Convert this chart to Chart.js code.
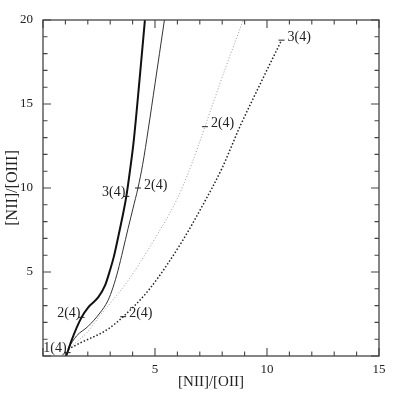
<!DOCTYPE html>
<html><head><meta charset="utf-8">
<script src="https://cdn.jsdelivr.net/npm/chart.js@4/dist/chart.umd.min.js"></script>
<style>html,body{margin:0;padding:0;background:#fff}</style>
</head><body>
<canvas id="c" width="399" height="399"></canvas>
<script>
// Series: thick solid
const thickX = [1.04, 1.28, 1.72, 2.02, 2.47, 2.77, 2.99, 3.16, 3.36, 3.55, 3.72, 3.88, 4.05, 4.30, 4.55];
const thickY = [0.00, 0.95, 2.30, 2.90, 3.50, 4.20, 5.10, 5.90, 7.10, 8.30, 9.50, 11.0, 12.8, 16.3, 20.0];
// Series: thin solid
const thinX = [1.12, 1.50, 2.00, 2.54, 2.90, 3.13, 3.35, 3.57, 3.80, 4.02, 4.24, 4.45, 4.70, 5.00, 5.20, 5.42];
const thinY = [0.46, 1.20, 1.75, 2.56, 3.30, 4.10, 5.10, 6.30, 7.60, 8.80, 10.0, 11.4, 13.5, 16.2, 18.0, 20.0];
// Series: light dotted
const lightX = [1.12, 1.60, 2.00, 2.54, 3.10, 3.70, 4.30, 5.00, 5.97, 6.60, 7.23, 8.00, 8.94];
const lightY = [0.46, 0.95, 1.45, 2.40, 3.30, 4.30, 5.50, 7.00, 9.30, 11.3, 13.65, 16.6, 20.0];
// Series: dark dotted
const darkX = [1.12, 1.65, 2.84, 3.58, 4.78, 6.20, 7.10, 8.00, 8.79, 9.70, 10.65];
const darkY = [0.40, 0.77, 1.55, 2.34, 4.03, 6.80, 8.90, 11.2, 13.65, 16.2, 18.8];
// Point labels
const labelText = ['1(4)', '2(4)', '3(4)', '2(4)', '2(4)', '2(4)', '3(4)'];
const labelX = [1.10, 1.72, 3.72, 4.24, 7.23, 3.58, 10.65];
const labelY = [0.20, 2.30, 9.50, 10.0, 13.65, 2.34, 18.8];
const labelSide = ['left', 'left', 'left', 'right', 'right', 'right', 'right'];
// Axes
const xTickLabels = [5, 10, 15];
const yTickLabels = [5, 10, 15, 20];

function pts(xs, ys) { return xs.map((v, i) => ({x: v, y: ys[i]})); }

const FONT = "'Liberation Serif', 'DejaVu Serif', serif";

const framePlugin = {
  id: 'frame',
  afterDatasetsDraw(chart) {
    const {ctx, chartArea: a, scales: {x, y}} = chart;
    ctx.save();
    ctx.strokeStyle = '#444';
    ctx.lineWidth = 1.3;
    ctx.strokeRect(a.left, a.top, a.right - a.left, a.bottom - a.top);
    ctx.lineWidth = 1.1;
    ctx.beginPath();
    for (let v = Math.ceil(x.min); v <= x.max; v++) {
      const p = x.getPixelForValue(v);
      const len = v % 5 === 0 ? 8 : 4.5;
      ctx.moveTo(p, a.bottom); ctx.lineTo(p, a.bottom - len);
      ctx.moveTo(p, a.top); ctx.lineTo(p, a.top + len);
    }
    for (let v = Math.ceil(y.min); v <= y.max; v++) {
      const p = y.getPixelForValue(v);
      const len = v % 5 === 0 ? 8 : 4.5;
      ctx.moveTo(a.left, p); ctx.lineTo(a.left + len, p);
      ctx.moveTo(a.right, p); ctx.lineTo(a.right - len, p);
    }
    ctx.stroke();
    // point labels with short dash markers
    ctx.fillStyle = '#222';
    ctx.font = "14px " + FONT;
    ctx.textBaseline = 'middle';
    ctx.lineWidth = 1;
    ctx.strokeStyle = '#222';
    labelText.forEach((t, i) => {
      const px = x.getPixelForValue(labelX[i]);
      const py = y.getPixelForValue(labelY[i]);
      ctx.beginPath();
      ctx.moveTo(px - 3, py); ctx.lineTo(px + 3, py);
      ctx.stroke();
      if (labelSide[i] === 'left') {
        ctx.textAlign = 'right';
        ctx.fillText(t, px - 1, py - 4);
      } else {
        ctx.textAlign = 'left';
        ctx.fillText(t, px + 6, py - 3);
      }
    });
    ctx.restore();
  }
};

new Chart(document.getElementById('c'), {
  type: 'scatter',
  data: {
    datasets: [
      {data: pts(thickX, thickY), showLine: true, borderColor: '#111', borderWidth: 2, pointRadius: 0, cubicInterpolationMode: 'monotone'},
      {data: pts(thinX, thinY), showLine: true, borderColor: '#333', borderWidth: 1, pointRadius: 0, cubicInterpolationMode: 'monotone'},
      {data: pts(lightX, lightY), showLine: true, borderColor: '#999', borderWidth: 1, borderDash: [1, 2], pointRadius: 0, cubicInterpolationMode: 'monotone'},
      {data: pts(darkX, darkY), showLine: true, borderColor: '#222', borderWidth: 1.5, borderDash: [1.5, 2], pointRadius: 0, cubicInterpolationMode: 'monotone'}
    ]
  },
  options: {
    responsive: false,
    animation: false,
    events: [],
    layout: {padding: {top: 20, right: 20, left: 0, bottom: 0}},
    plugins: {legend: {display: false}, tooltip: {enabled: false}},
    scales: {
      x: {
        type: 'linear', min: 0, max: 15,
        afterFit(s) { s.height = 43; },
        grid: {display: false, drawTicks: false},
        border: {display: false},
        ticks: {stepSize: 1, autoSkip: false, maxRotation: 0, padding: 6, color: '#222',
          font: {family: FONT, size: 13},
          callback: v => xTickLabels.includes(v) ? String(v) : ''},
        title: {display: true, text: '[NII]/[OII]', color: '#222', font: {family: FONT, size: 15}, padding: {top: 4, bottom: 8}}
      },
      y: {
        type: 'linear', min: 0, max: 20,
        afterFit(s) { s.width = 43; },
        grid: {display: false, drawTicks: false},
        border: {display: false},
        ticks: {stepSize: 1, autoSkip: false, padding: 10, color: '#222',
          font: {family: FONT, size: 13},
          callback: v => yTickLabels.includes(v) ? String(v) : ''},
        title: {display: true, text: '[NII]/[OIII]', color: '#222', font: {family: FONT, size: 16}, padding: {top: 3, bottom: 4}}
      }
    }
  },
  plugins: [framePlugin]
});
</script>
</body></html>
